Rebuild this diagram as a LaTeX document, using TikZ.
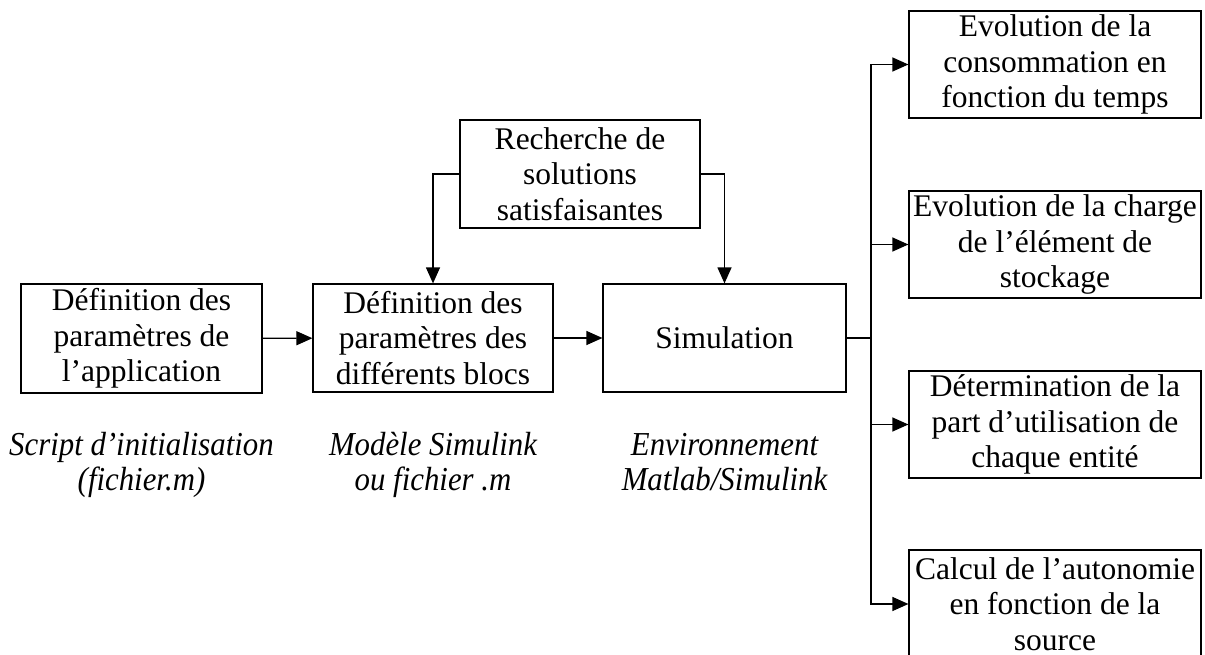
\documentclass[tikz,border=0pt]{standalone}
\usepackage{fontspec}
\setmainfont{Liberation Serif}
\newfontfamily\capfont{Liberation Serif Italic}[FakeStretch=0.92]
\usetikzlibrary{arrows.meta}
\begin{document}
\begin{tikzpicture}[x=1pt,y=-1pt,
  box/.style={draw, line width=1.2pt, align=center, inner sep=1pt,
    font=\fontsize{31.5}{35.5}\selectfont},
  captext/.style={align=center, inner sep=0pt,
    font=\capfont\fontsize{33.5}{35}\selectfont},
  conn/.style={line width=1.2pt},
  arr/.style={conn, -{Triangle[length=16pt,width=14pt]}}]
\useasboundingbox (0,0) rectangle (1205,655);
\node[box, minimum width=241, minimum height=109] (A) at (141.5,338.5)
  {Définition des\\paramètres de\\l’application};
\node[box, minimum width=240, minimum height=108] (B) at (433,338)
  {Définition des\\paramètres des\\différents blocs};
\node[box, minimum width=243, minimum height=108] (C) at (724.5,338)
  {Simulation};
\node[box, minimum width=240, minimum height=108] (D) at (580,174)
  {Recherche de\\solutions\\satisfaisantes};
\node[box, minimum width=292, minimum height=107] (R1) at (1055,64.5)
  {Evolution de la\\consommation en\\fonction du temps};
\node[box, minimum width=292, minimum height=107] (R2) at (1055,244.5)
  {Evolution de la charge\\de l’élément de\\stockage};
\node[box, minimum width=292, minimum height=107] (R3) at (1055,424.5)
  {Détermination de la\\part d’utilisation de\\chaque entité};
\node[box, minimum width=292, minimum height=108] (R4) at (1055,604)
  {Calcul de l’autonomie\\en fonction de la\\source};
\node[captext, anchor=base] (capA) at (141.5,490) {Script d’initialisation\\(fichier.m)};
\node[captext, anchor=base] (capB) at (433,490) {Modèle Simulink\\ou fichier .m};
\node[captext, anchor=base] (capC) at (724.5,490) {Environnement\\Matlab/Simulink};
\coordinate (J) at (871,338);
\draw[arr] (A) -- (B);
\draw[arr] (B) -- (C);
\draw[arr] (D.west) -| (B.north);
\draw[arr] (D.east) -| (C.north);
\draw[conn] (C.east) -- (J);
\draw[arr] (J) |- (R1.west);
\draw[arr] (J) |- (R2.west);
\draw[arr] (J) |- (R3.west);
\draw[arr] (J) |- (R4.west);
\end{tikzpicture}
\end{document}
